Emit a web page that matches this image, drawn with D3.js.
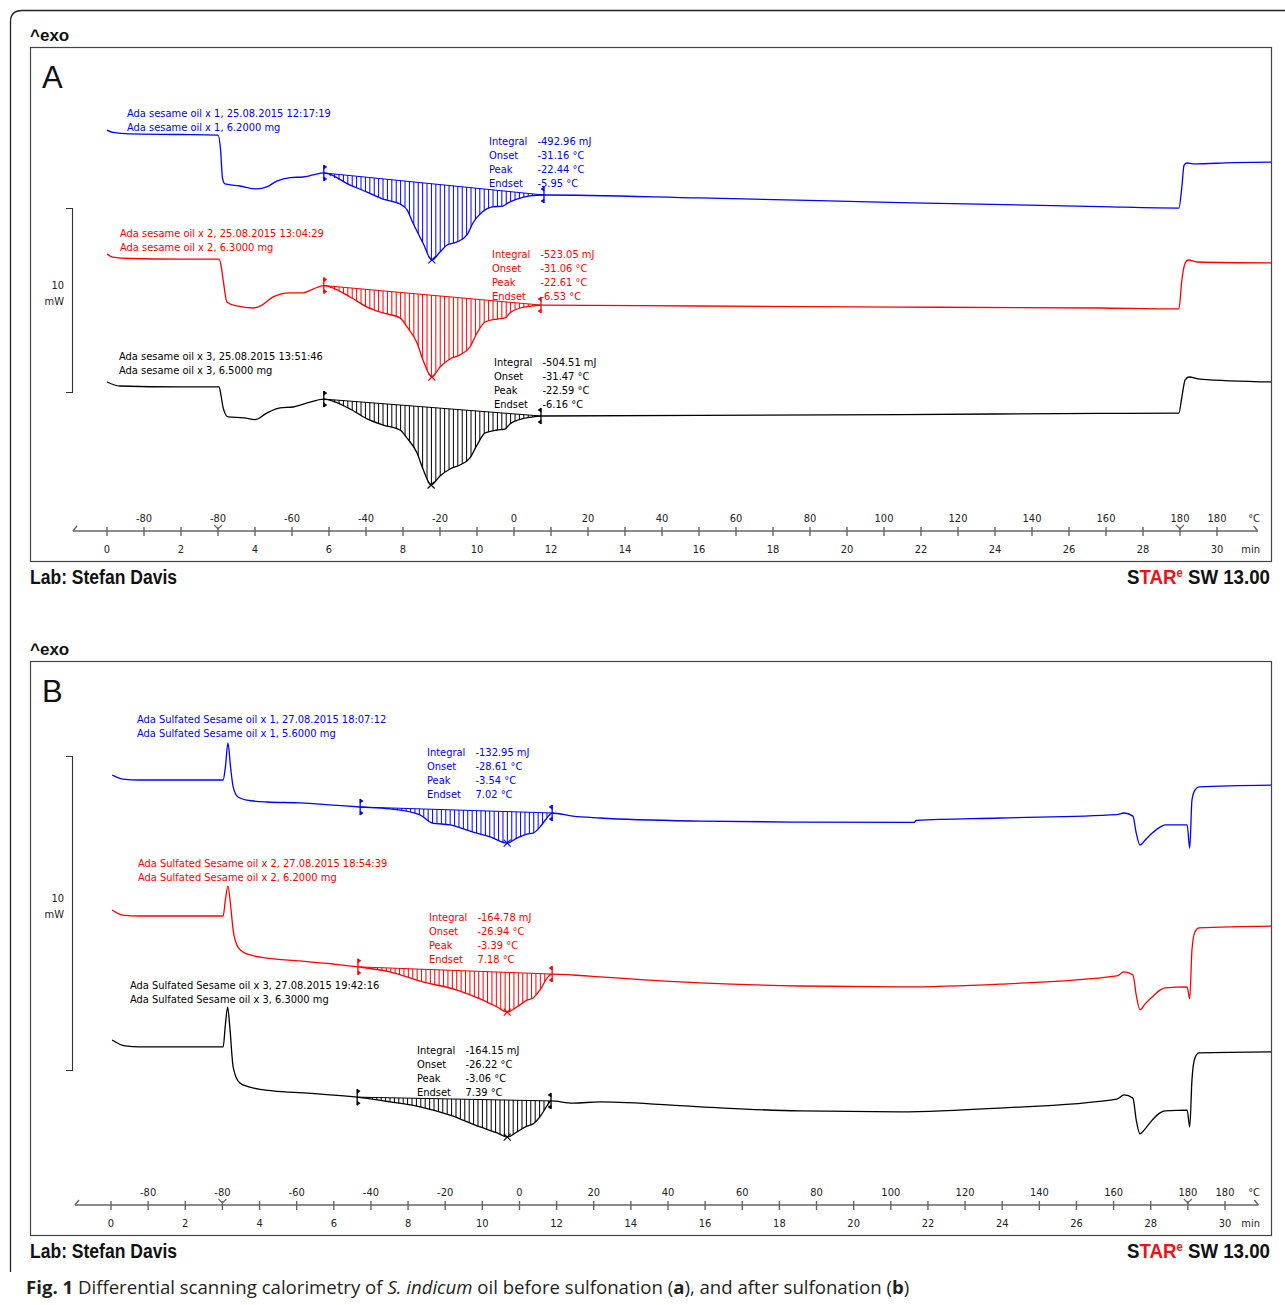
<!DOCTYPE html>
<html>
<head>
<meta charset="utf-8">
<script src="https://cdn.jsdelivr.net/npm/d3@7"></script>
<style>
  body { margin: 0; background: #fff; }
  svg text { font-family: "DejaVu Sans Condensed", "DejaVu Sans", sans-serif; }
</style>
</head>
<body>
<svg id="fig" width="1285" height="1305"></svg>
<script>
// ---- DSC curves: [time (min), heat flow (mW, stacked display)] ----
// Panel A: sesame oil before sulfonation
const curveA1 = [[0.00,23.42],[0.16,23.29],[0.62,23.21],[1.97,23.18],[3.00,23.15],[3.07,22.34],[3.12,20.82],[3.19,20.49],[3.59,20.38],[4.05,20.22],[4.32,20.33],[4.59,20.65],[4.95,20.84],[5.30,20.87],[5.57,20.98],[5.86,21.09],[6.57,20.43],[7.03,20.05],[7.46,19.67],[7.92,19.40],[8.11,19.08],[8.27,18.37],[8.54,17.28],[8.78,16.36],[9.00,16.79],[9.19,17.17],[9.46,17.34],[9.73,17.72],[9.89,18.37],[10.14,18.97],[10.41,19.24],[10.70,19.29],[10.84,19.46],[11.08,19.67],[11.43,19.84],[11.81,19.89],[16.03,19.73],[21.43,19.48],[26.84,19.26],[28.97,19.18],[29.05,20.33],[29.11,21.52],[29.19,21.63],[29.35,21.58],[30.43,21.65],[31.51,21.68]];
const curveA2 = [[0.00,16.68],[0.16,16.52],[0.62,16.44],[1.97,16.41],[3.03,16.41],[3.08,16.09],[3.14,15.27],[3.24,14.08],[3.51,13.86],[3.95,13.75],[4.19,13.91],[4.49,14.35],[4.95,14.57],[5.30,14.57],[5.57,14.78],[5.86,14.97],[6.57,14.35],[7.03,13.80],[7.46,13.48],[7.92,13.21],[8.11,12.72],[8.38,11.85],[8.54,10.92],[8.78,10.00],[9.00,10.54],[9.27,10.98],[9.54,11.20],[9.81,11.63],[10.00,12.39],[10.22,12.99],[10.54,13.15],[10.76,13.21],[10.89,13.48],[11.16,13.75],[11.51,13.86],[11.73,13.91],[16.03,13.86],[21.43,13.80],[26.84,13.75],[28.97,13.70],[29.05,15.27],[29.14,16.20],[29.22,16.36],[29.46,16.25],[31.51,16.20]];
const curveA3 = [[0.00,9.73],[0.35,9.51],[1.97,9.46],[3.03,9.46],[3.08,9.02],[3.14,8.32],[3.27,7.83],[3.70,7.78],[4.00,7.68],[4.32,8.04],[4.68,8.32],[5.03,8.37],[5.41,8.59],[5.86,8.80],[6.57,8.26],[7.03,7.72],[7.46,7.39],[7.92,7.12],[8.11,6.68],[8.38,5.87],[8.54,5.00],[8.76,4.13],[9.00,4.62],[9.27,5.00],[9.54,5.22],[9.81,5.60],[10.00,6.30],[10.22,6.96],[10.54,7.12],[10.76,7.17],[10.89,7.45],[11.16,7.69],[11.51,7.83],[11.73,7.88],[16.03,7.91],[21.43,7.96],[26.84,8.02],[28.97,8.04],[29.05,8.91],[29.14,9.84],[29.24,10.00],[29.54,9.89],[31.51,9.73]];

// Panel B: sesame oil after sulfonation
const curveB1 = [[0.03,14.65],[0.32,14.52],[0.78,14.49],[3.02,14.49],[3.08,14.90],[3.15,15.67],[3.22,14.90],[3.29,14.27],[3.42,13.95],[3.66,13.85],[4.20,13.79],[5.09,13.76],[5.98,13.69],[6.71,13.63],[7.51,13.57],[8.32,13.38],[8.65,13.12],[9.13,13.06],[9.75,12.83],[10.21,12.68],[10.67,12.48],[10.93,12.64],[11.20,12.77],[11.37,12.80],[11.55,12.99],[11.74,13.28],[11.88,13.44],[12.44,13.34],[13.17,13.28],[15.86,13.18],[18.56,13.15],[21.63,13.14],[21.68,13.20],[23.94,13.28],[27.09,13.39],[27.28,13.44],[27.52,13.34],[27.61,12.80],[27.71,12.42],[27.85,12.58],[28.04,12.80],[28.25,12.99],[28.39,13.06],[28.98,13.06],[29.05,12.32],[29.11,13.85],[29.19,14.17],[29.30,14.27],[31.30,14.33]];
const curveB2 = [[0.03,10.35],[0.32,10.19],[0.78,10.16],[3.02,10.16],[3.08,10.67],[3.15,11.11],[3.22,10.51],[3.29,9.71],[3.42,9.17],[3.66,8.95],[4.20,8.82],[5.09,8.73],[5.98,8.63],[6.65,8.54],[7.51,8.38],[8.40,8.06],[9.32,7.80],[9.94,7.52],[10.40,7.26],[10.67,7.10],[10.93,7.26],[11.20,7.48],[11.37,7.55],[11.55,7.80],[11.77,8.22],[11.88,8.31],[12.44,8.28],[13.17,8.22],[15.86,8.03],[18.56,7.93],[21.25,7.90],[23.94,7.99],[27.09,8.25],[27.28,8.38],[27.52,8.28],[27.61,7.64],[27.71,7.17],[27.85,7.36],[28.04,7.58],[28.25,7.80],[28.39,7.87],[28.98,7.90],[29.05,7.52],[29.11,9.08],[29.19,9.65],[29.30,9.78],[31.30,9.84]];
const curveB3 = [[0.03,6.21],[0.38,6.02],[0.78,5.99],[3.02,5.99],[3.08,6.69],[3.14,7.26],[3.20,6.62],[3.29,5.35],[3.47,4.84],[3.74,4.71],[4.36,4.59],[5.28,4.52],[6.63,4.39],[7.51,4.24],[8.32,4.08],[9.13,3.82],[9.94,3.44],[10.40,3.25],[10.67,3.12],[10.93,3.28],[11.20,3.47],[11.37,3.54],[11.55,3.76],[11.74,4.11],[11.85,4.27],[12.44,4.20],[13.17,4.24],[15.86,4.08],[18.56,3.95],[21.25,3.92],[23.94,4.04],[27.09,4.33],[27.28,4.46],[27.52,4.36],[27.61,3.66],[27.71,3.22],[27.85,3.38],[28.04,3.66],[28.25,3.89],[28.39,3.95],[28.98,3.98],[29.05,3.44],[29.11,4.94],[29.19,5.64],[29.30,5.80],[31.30,5.83]];

// Integration limits (min)
const intFromA = [5.86, 5.86, 5.86];
const intToA   = [11.81, 11.73, 11.73];
const intFromB = [6.71, 6.65, 6.63];
const intToB   = [11.88, 11.88, 11.85];

// Sample descriptions
const samplesA = ["Ada sesame oil x 1", "Ada sesame oil x 2", "Ada sesame oil x 3"];
const stampsA  = ["25.08.2015 12:17:19", "25.08.2015 13:04:29", "25.08.2015 13:51:46"];
const massesA  = ["6.2000", "6.3000", "6.5000"];
const samplesB = ["Ada Sulfated Sesame oil x 1", "Ada Sulfated Sesame oil x 2", "Ada Sulfated Sesame oil x 3"];
const stampsB  = ["27.08.2015 18:07:12", "27.08.2015 18:54:39", "27.08.2015 19:42:16"];
const massesB  = ["5.6000", "6.2000", "6.3000"];

// Peak evaluation results
const integralsA = [-492.96, -523.05, -504.51];
const onsetsA    = [-31.16, -31.06, -31.47];
const peaksA     = [-22.44, -22.61, -22.59];
const endsetsA   = [-5.95, -6.53, -6.16];
const integralsB = [-132.95, -164.78, -164.15];
const onsetsB    = [-28.61, -26.94, -26.22];
const peaksB     = [-3.54, -3.39, -3.06];
const endsetsB   = [7.02, 7.18, 7.39];

// Axis ticks: temperature program (°C) above, time (min) below
const tempTickTimes  = [1, 3, 5, 7, 9, 11, 13, 15, 17, 19, 21, 23, 25, 27, 29, 30];
const tempTickLabels = [-80, -80, -60, -40, -20, 0, 20, 40, 60, 80, 100, 120, 140, 160, 180, 180];
const segmentTimes   = [3, 29];
const minuteTicks    = d3.range(0, 31, 1);
const minuteLabels   = d3.range(0, 31, 2);

const colors = ["#0000ff", "#ff0000", "#000000"];
const svg = d3.select("#fig");
const defs = svg.append("defs");

// outer rounded border
svg.append("path")
  .attr("d", "M10.5,1272 V22 Q10.5,10.5 22,10.5 H1300")
  .attr("fill", "none").attr("stroke", "#222").attr("stroke-width", 1.3);

function fmt(v) { return v.toFixed(2); }

function drawPanel(p) {
  const g = svg.append("g");
  const X = p.x, Y = p.y;

  g.append("text").attr("x", 30).attr("y", p.top - 6)
    .style("font-family", "'Liberation Sans', Arial, sans-serif")
    .attr("font-size", 17).attr("font-weight", "bold").attr("fill", "#111").text("^exo");

  g.append("rect").attr("x", 30.5).attr("y", p.top + 0.5)
    .attr("width", 1241).attr("height", p.bottom - p.top)
    .attr("fill", "none").attr("stroke", "#444").attr("stroke-width", 1.2);

  g.append("text").attr("x", 42).attr("y", p.top + 41)
    .style("font-family", "'Liberation Sans', Arial, sans-serif")
    .attr("font-size", 31).attr("fill", "#111").text(p.letter);

  // 10 mW scale bar
  const barLen = Y(0) - Y(10);
  const sb = g.append("g").attr("stroke", "#333").attr("stroke-width", 1.1).attr("fill", "none");
  sb.append("path").attr("d", `M66,${p.barTop + 0.5} H72.5 V${p.barTop + barLen + 0.5} H66`);
  const mid = p.barTop + barLen / 2;
  g.append("text").attr("x", 64).attr("y", mid - 11).attr("text-anchor", "end")
    .attr("font-size", 11).attr("fill", "#222").text("10");
  g.append("text").attr("x", 64).attr("y", mid + 5).attr("text-anchor", "end")
    .attr("font-size", 11).attr("fill", "#222").text("mW");

  // clipping to the frame
  const cid = "clip" + p.letter;
  defs.append("clipPath").attr("id", cid).append("rect")
    .attr("x", 31).attr("y", p.top + 1).attr("width", 1240).attr("height", p.bottom - p.top - 1);
  const plot = g.append("g").attr("clip-path", `url(#${cid})`);

  const line = d3.line().x(d => X(d[0])).y(d => Y(d[1])).curve(d3.curveMonotoneX);

  p.curves.forEach((data, i) => {
    const col = colors[i];
    const seg = data.filter(d => d[0] >= p.from[i] - 1e-9 && d[0] <= p.to[i] + 1e-9);
    const s0 = seg[0], s1 = seg[seg.length - 1];
    const x0 = X(s0[0]), y0 = Y(s0[1]), x1 = X(s1[0]), y1 = Y(s1[1]);

    // hatched peak area between the curve and the integration baseline
    const hid = `hatch${p.letter}${i}`;
    defs.append("clipPath").attr("id", hid).append("path")
      .attr("d", line(seg) + `L${x0},${y0}Z`);
    plot.append("g").attr("clip-path", `url(#${hid})`)
      .selectAll("line").data(d3.range(x0 + 2, x1, p.hatchStep)).join("line")
      .attr("x1", d => d).attr("x2", d => d)
      .attr("y1", p.top).attr("y2", p.bottom)
      .attr("stroke", col).attr("stroke-width", 1);

    plot.append("line").attr("x1", x0).attr("y1", y0).attr("x2", x1).attr("y2", y1)
      .attr("stroke", col).attr("stroke-width", 1);

    plot.append("path").attr("d", line(data))
      .attr("fill", "none").attr("stroke", col).attr("stroke-width", 1.3);

    // integration limit markers
    [[x0, y0, 1], [x1, y1, -1]].forEach(([mx, my, dir]) => {
      plot.append("line").attr("x1", mx).attr("x2", mx).attr("y1", my - 8).attr("y2", my + 8)
        .attr("stroke", col).attr("stroke-width", 1.3);
      plot.append("path")
        .attr("d", `M${mx},${my - 8}L${mx + 3 * dir},${my - 6}L${mx},${my - 4}Z M${mx},${my + 4}L${mx + 3 * dir},${my + 6}L${mx},${my + 8}Z`)
        .attr("fill", col).attr("stroke", col).attr("stroke-width", 0.6);
    });

    // peak marker
    const pk = d3.least(seg, d => d[1]);
    const px = X(pk[0]), py = Y(pk[1]);
    plot.append("path").attr("d", `M${px - 3.5},${py - 3.5}L${px + 3.5},${py + 3.5}M${px + 3.5},${py - 3.5}L${px - 3.5},${py + 3.5}`)
      .attr("stroke", col).attr("stroke-width", 1.1);

    // sample description
    const t = p.titlePos[i];
    g.append("text").attr("x", t[0]).attr("y", t[1] + 4).attr("font-size", 11).attr("fill", col)
      .text(`${p.samples[i]}, ${p.stamps[i]}`);
    g.append("text").attr("x", t[0]).attr("y", t[1] + 18).attr("font-size", 11).attr("fill", col)
      .text(`${p.samples[i]}, ${p.masses[i]} mg`);

    // evaluation results
    const a = p.resPos[i];
    const rows = [["Integral", fmt(p.integrals[i]) + " mJ"], ["Onset", fmt(p.onsets[i]) + " °C"],
                  ["Peak", fmt(p.peaks[i]) + " °C"], ["Endset", fmt(p.endsets[i]) + " °C"]];
    rows.forEach((r, k) => {
      g.append("text").attr("x", a[0]).attr("y", a[1] + 4 + k * 14).attr("font-size", 11).attr("fill", col).text(r[0]);
      g.append("text").attr("x", a[0] + 48.5).attr("y", a[1] + 4 + k * 14).attr("font-size", 11).attr("fill", col).text(r[1]);
    });
  });

  // time / temperature axis
  const ay = p.axisY;
  const ax = g.append("g").attr("stroke", "#666").attr("stroke-width", 1.4).attr("fill", "none");
  const xl = X(p.axisFrom), xr = X(p.axisTo);
  ax.append("line").attr("x1", xl).attr("x2", xr).attr("y1", ay).attr("y2", ay);
  ax.append("path").attr("d", `M${xl},${ay}L${xl + 4},${ay - 5}`);
  ax.append("path").attr("d", `M${xr - 4},${ay - 5}L${xr},${ay}`);
  ax.selectAll(".tk").data(minuteTicks).join("line")
    .attr("x1", d => X(d)).attr("x2", d => X(d)).attr("y1", ay - 4).attr("y2", ay + 5);
  ax.selectAll(".seg").data(segmentTimes).join("path")
    .attr("d", d => `M${X(d) - 4},${ay - 6}L${X(d)},${ay - 2}L${X(d) + 4},${ay - 6}`)
    .attr("stroke-width", 1.1);

  const lab = g.append("g").attr("font-size", 11).attr("fill", "#222").attr("text-anchor", "middle");
  lab.selectAll(".tl").data(tempTickTimes).join("text")
    .attr("x", d => X(d)).attr("y", ay - 9).text((d, k) => tempTickLabels[k]);
  lab.selectAll(".ml").data(minuteLabels).join("text")
    .attr("x", d => X(d)).attr("y", ay + 22).text(d => d);
  lab.append("text").attr("x", 1260).attr("y", ay - 9).attr("text-anchor", "end").text("°C");
  lab.append("text").attr("x", 1260).attr("y", ay + 22).attr("text-anchor", "end").text("min");

  // footer
  g.append("text").attr("x", 30).attr("y", p.bottom + 23)
    .style("font-family", "'Liberation Sans Narrow', 'Arial Narrow', 'Liberation Sans', sans-serif")
    .attr("font-size", 20).attr("font-weight", "bold").attr("fill", "#111")
    .attr("textLength", 147).attr("lengthAdjust", "spacingAndGlyphs")
    .text("Lab: Stefan Davis");
  const star = g.append("text").attr("x", 1270).attr("y", p.bottom + 23).attr("text-anchor", "end")
    .style("font-family", "'Liberation Sans Narrow', 'Arial Narrow', 'Liberation Sans', sans-serif")
    .attr("font-size", 20).attr("font-weight", "bold").attr("fill", "#111")
    .attr("textLength", 143).attr("lengthAdjust", "spacingAndGlyphs");
  star.append("tspan").text("S");
  star.append("tspan").attr("fill", "#e8141a").text("TAR");
  star.append("tspan").attr("fill", "#e8141a").attr("font-size", 12).attr("dy", -7).text("e");
  star.append("tspan").attr("dy", 7).text(" SW 13.00");
}

drawPanel({
  letter: "A", top: 47, bottom: 561, axisY: 531, barTop: 208, hatchStep: 4.4,
  x: d3.scaleLinear().domain([0, 30]).range([107, 1217]),
  y: d3.scaleLinear().domain([0, 10]).range([561, 377]),
  axisFrom: -0.92, axisTo: 31.1,
  curves: [curveA1, curveA2, curveA3], from: intFromA, to: intToA,
  samples: samplesA, stamps: stampsA, masses: massesA,
  integrals: integralsA, onsets: onsetsA, peaks: peaksA, endsets: endsetsA,
  titlePos: [[127, 113], [120, 233], [119, 356]],
  resPos: [[489, 141], [492, 254], [494, 362]]
});

drawPanel({
  letter: "B", top: 661, bottom: 1235, axisY: 1205, barTop: 756, hatchStep: 4.4,
  x: d3.scaleLinear().domain([0, 30]).range([111, 1225]),
  y: d3.scaleLinear().domain([0, 10]).range([1235, 921]),
  axisFrom: -0.97, axisTo: 30.9,
  curves: [curveB1, curveB2, curveB3], from: intFromB, to: intToB,
  samples: samplesB, stamps: stampsB, masses: massesB,
  integrals: integralsB, onsets: onsetsB, peaks: peaksB, endsets: endsetsB,
  titlePos: [[137, 719], [138, 863], [130, 985]],
  resPos: [[427, 752], [429, 917], [417, 1050]]
});

// figure caption
const cap = svg.append("text").attr("x", 26).attr("y", 1294)
  .style("font-family", "'Open Sans', 'Noto Sans', sans-serif")
  .attr("font-size", 18.6).attr("fill", "#231f20");
cap.append("tspan").attr("font-weight", "bold").text("Fig. 1");
cap.append("tspan").text(" Differential scanning calorimetry of ");
cap.append("tspan").attr("font-style", "italic").text("S. indicum");
cap.append("tspan").text(" oil before sulfonation (");
cap.append("tspan").attr("font-weight", "bold").text("a");
cap.append("tspan").text("), and after sulfonation (");
cap.append("tspan").attr("font-weight", "bold").text("b");
cap.append("tspan").text(")");
</script>
</body>
</html>
